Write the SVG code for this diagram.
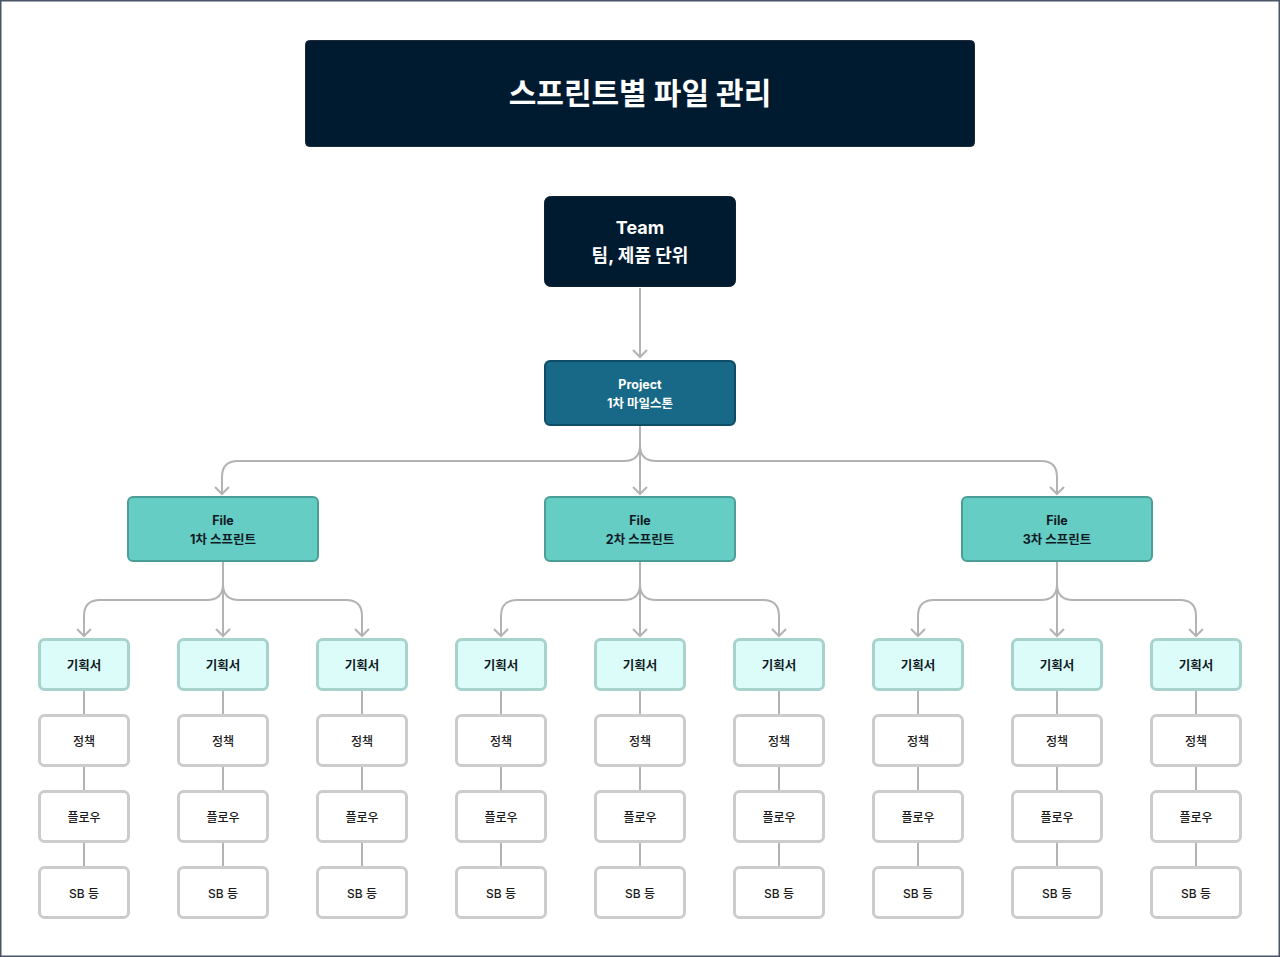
<svg xmlns="http://www.w3.org/2000/svg" width="1280" height="957" viewBox="0 0 1280 957">
<style>
.t{font-family:Inter,"Noto Sans CJK KR",sans-serif;font-weight:700;text-anchor:middle}
.w{fill:#ffffff}
.d{fill:#0f1a24}
.n{font-family:Inter,"Noto Sans CJK KR",sans-serif;font-weight:500;text-anchor:middle;fill:#1a1a1a;font-size:12px}
.c{fill:none;stroke:#b3b3b3;stroke-width:2}
.plan{fill:#dcfcf9;stroke:#a8d3cc;stroke-width:3}
.leaf{fill:#ffffff;stroke:#cccccc;stroke-width:3}
.file{fill:#66cdc4;stroke:#4a9e97;stroke-width:2}
</style>
<defs>
<marker id="ah" markerWidth="10" markerHeight="16" refX="8" refY="8" markerUnits="userSpaceOnUse" orient="auto" viewBox="0 0 10 16">
<path d="M1,1 L8,8 L1,15" fill="none" stroke="#b3b3b3" stroke-width="2"/>
</marker>
</defs>
<rect x="0.75" y="0.75" width="1278.5" height="955.5" fill="#ffffff" stroke="#4a5668" stroke-width="1.5"/>

<g id="connectors">
<path class="c" d="M640,288 V357" marker-end="url(#ah)"/>
<path class="c" d="M640,426 V445 Q640,461 624,461 H238 Q222,461 222,477 V494" marker-end="url(#ah)"/>
<path class="c" d="M640,426 V494" marker-end="url(#ah)"/>
<path class="c" d="M640,426 V445 Q640,461 656,461 H1041 Q1057,461 1057,477 V494" marker-end="url(#ah)"/>

<path class="c" d="M223,562 V584 Q223,600 207,600 H100 Q84,600 84,616 V636" marker-end="url(#ah)"/>
<path class="c" d="M223,562 V636" marker-end="url(#ah)"/>
<path class="c" d="M223,562 V584 Q223,600 239,600 H346 Q362,600 362,616 V636" marker-end="url(#ah)"/>

<path class="c" d="M640,562 V584 Q640,600 624,600 H517 Q501,600 501,616 V636" marker-end="url(#ah)"/>
<path class="c" d="M640,562 V636" marker-end="url(#ah)"/>
<path class="c" d="M640,562 V584 Q640,600 656,600 H763 Q779,600 779,616 V636" marker-end="url(#ah)"/>

<path class="c" d="M1057,562 V584 Q1057,600 1041,600 H934 Q918,600 918,616 V636" marker-end="url(#ah)"/>
<path class="c" d="M1057,562 V636" marker-end="url(#ah)"/>
<path class="c" d="M1057,562 V584 Q1057,600 1073,600 H1180 Q1196,600 1196,616 V636" marker-end="url(#ah)"/>

<path class="c" d="M84,691 V714 M84,767 V790 M84,843 V866"/>
<path class="c" d="M223,691 V714 M223,767 V790 M223,843 V866"/>
<path class="c" d="M362,691 V714 M362,767 V790 M362,843 V866"/>
<path class="c" d="M501,691 V714 M501,767 V790 M501,843 V866"/>
<path class="c" d="M640,691 V714 M640,767 V790 M640,843 V866"/>
<path class="c" d="M779,691 V714 M779,767 V790 M779,843 V866"/>
<path class="c" d="M918,691 V714 M918,767 V790 M918,843 V866"/>
<path class="c" d="M1057,691 V714 M1057,767 V790 M1057,843 V866"/>
<path class="c" d="M1196,691 V714 M1196,767 V790 M1196,843 V866"/>
</g>

<g id="title">
<rect x="305.5" y="40.5" width="669" height="106" rx="4" fill="#001b30" stroke="#1c2a3a" stroke-width="1"/>
<text class="t w" x="640" y="104" font-size="30">스프린트별 파일 관리</text>
</g>

<g id="team">
<rect x="544.5" y="196.5" width="191" height="90" rx="6" fill="#001b30" stroke="#0a2236" stroke-width="1"/>
<text class="t w" x="640" y="234" font-size="18">Team</text>
<text class="t w" x="640" y="262" font-size="18">팀, 제품 단위</text>
</g>

<g id="project">
<rect x="545" y="361" width="190" height="64" rx="5" fill="#176987" stroke="#0e4d65" stroke-width="2"/>
<text class="t w" x="640" y="389" font-size="12.5">Project</text>
<text class="t w" x="640" y="408" font-size="12.5">1차 마일스톤</text>
</g>

<g id="file1">
<rect class="file" x="128" y="497" width="190" height="64" rx="5"/>
<text class="t d" x="223" y="525" font-size="12.5">File</text>
<text class="t d" x="223" y="544" font-size="12.5">1차 스프린트</text>
</g>
<g id="file2">
<rect class="file" x="545" y="497" width="190" height="64" rx="5"/>
<text class="t d" x="640" y="525" font-size="12.5">File</text>
<text class="t d" x="640" y="544" font-size="12.5">2차 스프린트</text>
</g>
<g id="file3">
<rect class="file" x="962" y="497" width="190" height="64" rx="5"/>
<text class="t d" x="1057" y="525" font-size="12.5">File</text>
<text class="t d" x="1057" y="544" font-size="12.5">3차 스프린트</text>
</g>

<g id="plan1"><rect class="plan" x="39.5" y="639.5" width="89" height="50" rx="5"/><text class="t d" x="84" y="669.5" font-size="12.5">기획서</text></g>
<g id="plan2"><rect class="plan" x="178.5" y="639.5" width="89" height="50" rx="5"/><text class="t d" x="223" y="669.5" font-size="12.5">기획서</text></g>
<g id="plan3"><rect class="plan" x="317.5" y="639.5" width="89" height="50" rx="5"/><text class="t d" x="362" y="669.5" font-size="12.5">기획서</text></g>
<g id="plan4"><rect class="plan" x="456.5" y="639.5" width="89" height="50" rx="5"/><text class="t d" x="501" y="669.5" font-size="12.5">기획서</text></g>
<g id="plan5"><rect class="plan" x="595.5" y="639.5" width="89" height="50" rx="5"/><text class="t d" x="640" y="669.5" font-size="12.5">기획서</text></g>
<g id="plan6"><rect class="plan" x="734.5" y="639.5" width="89" height="50" rx="5"/><text class="t d" x="779" y="669.5" font-size="12.5">기획서</text></g>
<g id="plan7"><rect class="plan" x="873.5" y="639.5" width="89" height="50" rx="5"/><text class="t d" x="918" y="669.5" font-size="12.5">기획서</text></g>
<g id="plan8"><rect class="plan" x="1012.5" y="639.5" width="89" height="50" rx="5"/><text class="t d" x="1057" y="669.5" font-size="12.5">기획서</text></g>
<g id="plan9"><rect class="plan" x="1151.5" y="639.5" width="89" height="50" rx="5"/><text class="t d" x="1196" y="669.5" font-size="12.5">기획서</text></g>

<g id="policy1"><rect class="leaf" x="39.5" y="715.5" width="89" height="50" rx="5"/><text class="n" x="84" y="745.5">정책</text></g>
<g id="policy2"><rect class="leaf" x="178.5" y="715.5" width="89" height="50" rx="5"/><text class="n" x="223" y="745.5">정책</text></g>
<g id="policy3"><rect class="leaf" x="317.5" y="715.5" width="89" height="50" rx="5"/><text class="n" x="362" y="745.5">정책</text></g>
<g id="policy4"><rect class="leaf" x="456.5" y="715.5" width="89" height="50" rx="5"/><text class="n" x="501" y="745.5">정책</text></g>
<g id="policy5"><rect class="leaf" x="595.5" y="715.5" width="89" height="50" rx="5"/><text class="n" x="640" y="745.5">정책</text></g>
<g id="policy6"><rect class="leaf" x="734.5" y="715.5" width="89" height="50" rx="5"/><text class="n" x="779" y="745.5">정책</text></g>
<g id="policy7"><rect class="leaf" x="873.5" y="715.5" width="89" height="50" rx="5"/><text class="n" x="918" y="745.5">정책</text></g>
<g id="policy8"><rect class="leaf" x="1012.5" y="715.5" width="89" height="50" rx="5"/><text class="n" x="1057" y="745.5">정책</text></g>
<g id="policy9"><rect class="leaf" x="1151.5" y="715.5" width="89" height="50" rx="5"/><text class="n" x="1196" y="745.5">정책</text></g>

<g id="flow1"><rect class="leaf" x="39.5" y="791.5" width="89" height="50" rx="5"/><text class="n" x="84" y="821.5">플로우</text></g>
<g id="flow2"><rect class="leaf" x="178.5" y="791.5" width="89" height="50" rx="5"/><text class="n" x="223" y="821.5">플로우</text></g>
<g id="flow3"><rect class="leaf" x="317.5" y="791.5" width="89" height="50" rx="5"/><text class="n" x="362" y="821.5">플로우</text></g>
<g id="flow4"><rect class="leaf" x="456.5" y="791.5" width="89" height="50" rx="5"/><text class="n" x="501" y="821.5">플로우</text></g>
<g id="flow5"><rect class="leaf" x="595.5" y="791.5" width="89" height="50" rx="5"/><text class="n" x="640" y="821.5">플로우</text></g>
<g id="flow6"><rect class="leaf" x="734.5" y="791.5" width="89" height="50" rx="5"/><text class="n" x="779" y="821.5">플로우</text></g>
<g id="flow7"><rect class="leaf" x="873.5" y="791.5" width="89" height="50" rx="5"/><text class="n" x="918" y="821.5">플로우</text></g>
<g id="flow8"><rect class="leaf" x="1012.5" y="791.5" width="89" height="50" rx="5"/><text class="n" x="1057" y="821.5">플로우</text></g>
<g id="flow9"><rect class="leaf" x="1151.5" y="791.5" width="89" height="50" rx="5"/><text class="n" x="1196" y="821.5">플로우</text></g>

<g id="sb1"><rect class="leaf" x="39.5" y="867.5" width="89" height="50" rx="5"/><text class="n" x="84" y="897.5">SB 등</text></g>
<g id="sb2"><rect class="leaf" x="178.5" y="867.5" width="89" height="50" rx="5"/><text class="n" x="223" y="897.5">SB 등</text></g>
<g id="sb3"><rect class="leaf" x="317.5" y="867.5" width="89" height="50" rx="5"/><text class="n" x="362" y="897.5">SB 등</text></g>
<g id="sb4"><rect class="leaf" x="456.5" y="867.5" width="89" height="50" rx="5"/><text class="n" x="501" y="897.5">SB 등</text></g>
<g id="sb5"><rect class="leaf" x="595.5" y="867.5" width="89" height="50" rx="5"/><text class="n" x="640" y="897.5">SB 등</text></g>
<g id="sb6"><rect class="leaf" x="734.5" y="867.5" width="89" height="50" rx="5"/><text class="n" x="779" y="897.5">SB 등</text></g>
<g id="sb7"><rect class="leaf" x="873.5" y="867.5" width="89" height="50" rx="5"/><text class="n" x="918" y="897.5">SB 등</text></g>
<g id="sb8"><rect class="leaf" x="1012.5" y="867.5" width="89" height="50" rx="5"/><text class="n" x="1057" y="897.5">SB 등</text></g>
<g id="sb9"><rect class="leaf" x="1151.5" y="867.5" width="89" height="50" rx="5"/><text class="n" x="1196" y="897.5">SB 등</text></g>
</svg>
